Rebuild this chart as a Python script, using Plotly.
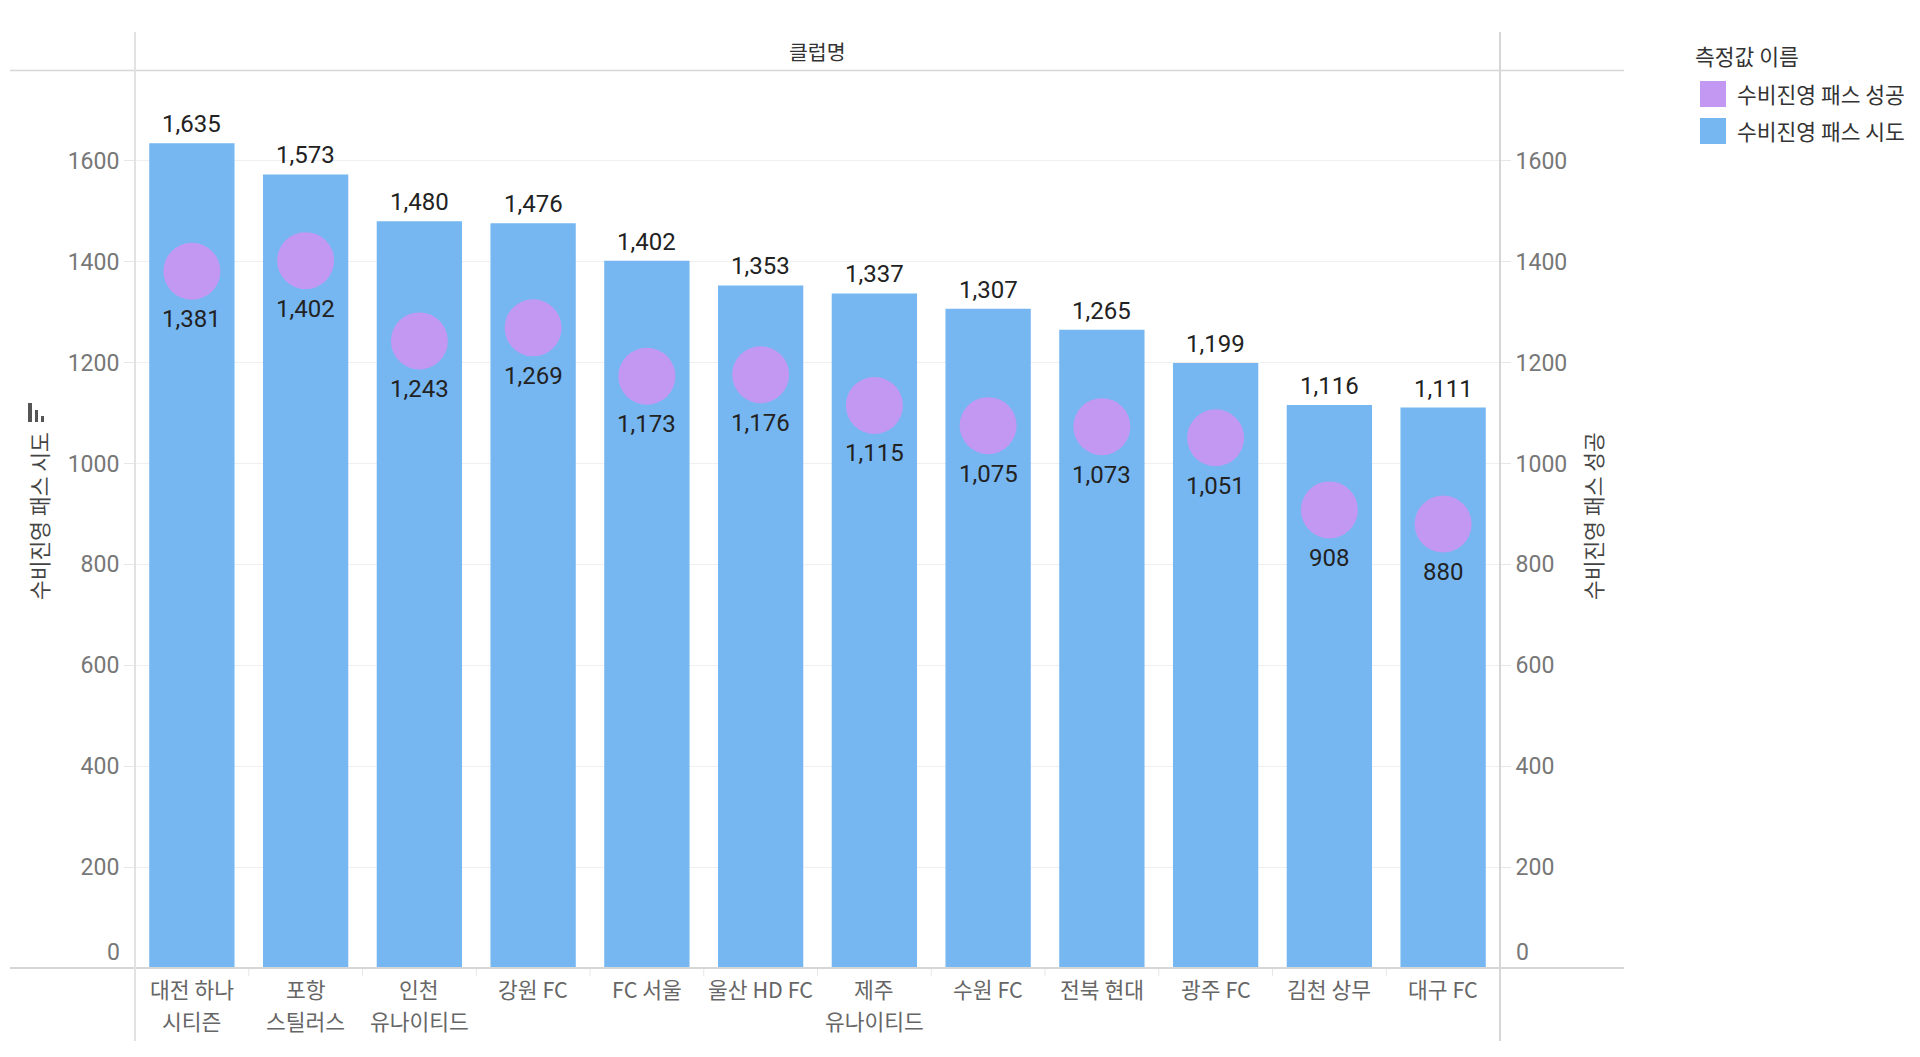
import plotly.graph_objects as go

categories = ["대전 하나<br>시티즌", "포항<br>스틸러스", "인천<br>유나이티드", "강원 FC", "FC 서울",
              "울산 HD FC", "제주<br>유나이티드", "수원 FC", "전북 현대", "광주 FC", "김천 상무", "대구 FC"]
attempts = [1635, 1573, 1480, 1476, 1402, 1353, 1337, 1307, 1265, 1199, 1116, 1111]
success = [1381, 1402, 1243, 1269, 1173, 1176, 1115, 1075, 1073, 1051, 908, 880]
tick_vals = [200, 400, 600, 800, 1000, 1200, 1400, 1600]

BAR = "#76b7f2"
DOT = "#c398f2"
FONT = "Roboto, 'Noto Sans CJK KR', sans-serif"
KFONT = "'Noto Sans CJK KR', Roboto, sans-serif"

OFF = 8  # page body margin
W, H = 1920 - 2 * OFF, 1057 - 2 * OFF
SL, SR, ST, SB = 135, 1500, 70, 968
L, R, T, B = SL - OFF, SR - OFF, ST - OFF, SB - OFF
YMAX = 1780

def px(x):
    return (x - SL) / (SR - SL)

def py(y):
    return (SB - y) / (SB - ST)

fig = go.Figure()
fig.add_trace(go.Bar(x=categories, y=attempts, marker=dict(color=BAR, line=dict(width=0)),
                     name="수비진영 패스 시도", showlegend=False))
fig.add_trace(go.Scatter(x=categories, y=success, mode="markers", yaxis="y2",
                         marker=dict(color=DOT, size=57, line=dict(width=0)),
                         name="수비진영 패스 성공", showlegend=False))

LBL = dict(family=FONT, size=24, color="#222")
TXT = "#333"
ann = []
for c, v in zip(categories, attempts):
    ann.append(dict(x=c, y=v, xref="x", yref="y", text=f"{v:,}", showarrow=False,
                    yanchor="middle", yshift=19, font=LBL))
for c, v in zip(categories, success):
    ann.append(dict(x=c, y=v, xref="x", yref="y2", text=f"{v:,}", showarrow=False,
                    yanchor="middle", yshift=-48, font=LBL))
# category labels (two lines with wide spacing)
CATF = dict(family=KFONT, size=21.5, color="#666")
for c in categories:
    for j, line in enumerate(c.split("<br>")):
        ann.append(dict(x=c, y=py(988 + 32 * j), xref="x", yref="paper", text=line, showarrow=False,
                        xanchor="center", yanchor="middle", font=CATF))
TICKF = dict(family=FONT, size=23, color="#777")
ann.append(dict(x=px(122), y=0, xref="paper", yref="y", text="0", showarrow=False,
                xanchor="right", yanchor="middle", yshift=16, font=TICKF))
ann.append(dict(x=px(1514), y=0, xref="paper", yref="y", text="0", showarrow=False,
                xanchor="left", yanchor="middle", yshift=16, font=TICKF))
ann.append(dict(x=0.5, y=py(51), xref="paper", yref="paper", text="클럽명", showarrow=False,
                xanchor="center", yanchor="middle", font=dict(family=KFONT, size=20.5, color=TXT)))
ann.append(dict(x=px(39), y=py(516), xref="paper", yref="paper", text="수비진영 패스 시도", showarrow=False,
                xanchor="center", yanchor="middle", textangle=-90,
                font=dict(family=KFONT, size=21.5, color="#444")))
ann.append(dict(x=px(1593), y=py(516), xref="paper", yref="paper", text="수비진영 패스 성공", showarrow=False,
                xanchor="center", yanchor="middle", textangle=-90,
                font=dict(family=KFONT, size=21.5, color="#444")))
ann.append(dict(x=px(1693), y=py(55), xref="paper", yref="paper", text="측정값 이름", showarrow=False,
                xanchor="left", yanchor="middle", font=dict(family=KFONT, size=21.5, color=TXT)))
ann.append(dict(x=px(1735), y=py(93.5), xref="paper", yref="paper", text="수비진영 패스 성공", showarrow=False,
                xanchor="left", yanchor="middle", font=dict(family=KFONT, size=21.5, color=TXT)))
ann.append(dict(x=px(1735), y=py(130.5), xref="paper", yref="paper", text="수비진영 패스 시도", showarrow=False,
                xanchor="left", yanchor="middle", font=dict(family=KFONT, size=21.5, color=TXT)))

shapes = []
GL = "#d6d6d6"
shapes.append(dict(type="line", xref="paper", yref="paper", x0=px(10), x1=px(1624), y0=py(70.5), y1=py(70.5),
                   line=dict(color=GL, width=1.5)))
shapes.append(dict(type="line", xref="paper", yref="paper", x0=px(10), x1=px(1624), y0=py(968), y1=py(968),
                   line=dict(color=GL, width=2)))
shapes.append(dict(type="line", xref="paper", yref="paper", x0=px(135), x1=px(135), y0=py(32), y1=py(1041),
                   line=dict(color="#e2e2e2", width=2)))
shapes.append(dict(type="line", xref="paper", yref="paper", x0=px(1500), x1=px(1500), y0=py(32), y1=py(1041),
                   line=dict(color=GL, width=2)))
for i in range(1, 12):
    xx = SL + i * (SR - SL) / 12
    shapes.append(dict(type="line", xref="paper", yref="paper", x0=px(xx), x1=px(xx), y0=py(969), y1=py(976),
                       line=dict(color="#e6e6e6", width=1)))
shapes.append(dict(type="rect", xref="paper", yref="paper", x0=px(1700), x1=px(1726), y0=py(81), y1=py(107),
                   fillcolor=DOT, line=dict(width=0)))
shapes.append(dict(type="rect", xref="paper", yref="paper", x0=px(1700), x1=px(1726), y0=py(118), y1=py(144),
                   fillcolor=BAR, line=dict(width=0)))
for x0, x1, y0 in [(28, 32, 403), (35, 38, 410), (41, 44, 416)]:
    shapes.append(dict(type="rect", xref="paper", yref="paper", x0=px(x0), x1=px(x1), y0=py(y0), y1=py(422),
                       fillcolor="#555", line=dict(width=0)))

axis_common = dict(range=[0, YMAX], tickvals=tick_vals, showline=False, zeroline=False,
                   ticks="outside", ticklen=10, tickcolor="#e6e6e6", tickwidth=1,
                   tickfont=TICKF)

fig.update_layout(
    width=W, height=H, autosize=False,
    margin=dict(l=L, r=W - R, t=T, b=H - B, pad=0),
    paper_bgcolor="white", plot_bgcolor="white",
    bargap=0.25,
    xaxis=dict(range=[-0.5, len(categories) - 0.5], showgrid=False, showline=False, zeroline=False, ticks="",
               showticklabels=False, automargin=False),
    yaxis=dict(showgrid=True, gridcolor="#efefef", gridwidth=1, automargin=False, **axis_common),
    yaxis2=dict(overlaying="y", side="right", showgrid=False, automargin=False, **axis_common),
    annotations=ann, shapes=shapes, showlegend=False,
)

fig.write_html("out.html")
